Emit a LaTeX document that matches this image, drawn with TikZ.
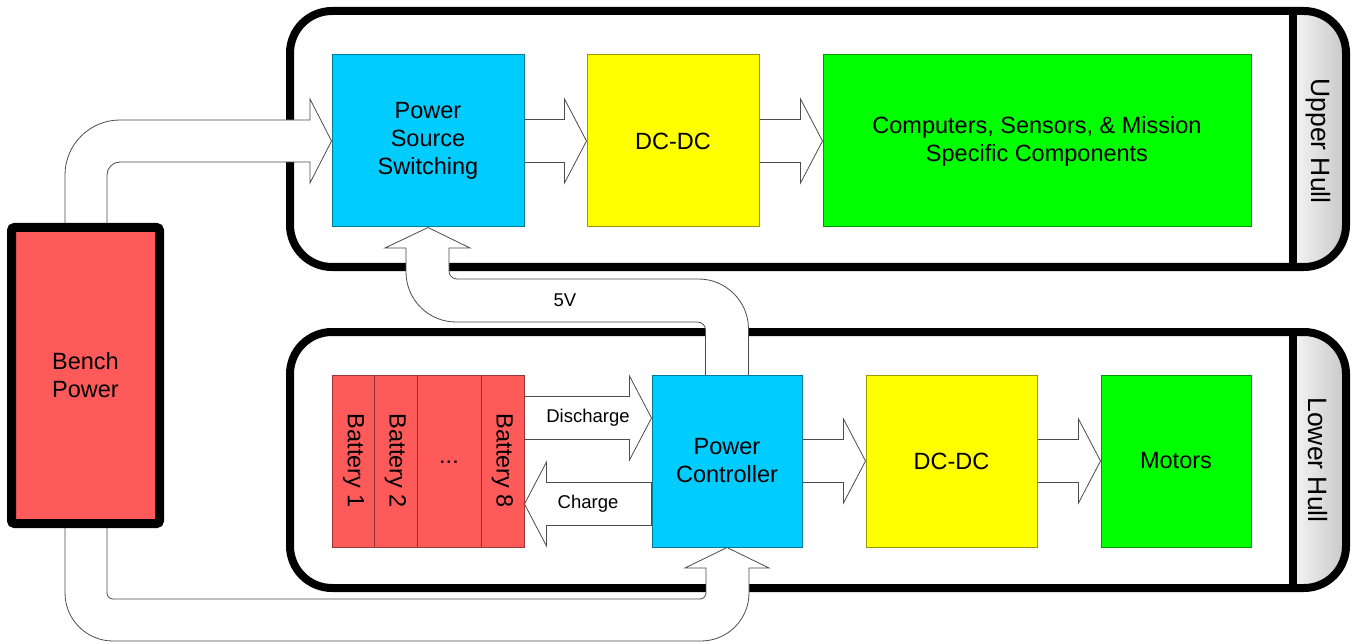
\documentclass[tikz,border=0pt]{standalone}
\usepackage{fontspec}
\setmainfont{Liberation Sans}
\usetikzlibrary{calc}
\pgfdeclarelayer{paper}
\pgfdeclarelayer{hulls}
\pgfdeclarelayer{arrows}
\pgfsetlayers{paper,hulls,arrows,main}
\definecolor{cyanbox}{HTML}{00CCFF}
\definecolor{yellowbox}{HTML}{FFFF00}
\definecolor{greenbox}{HTML}{00FF00}
\definecolor{redbox}{HTML}{FF5A5A}
\newcommand\boxfont{\fontsize{23.5}{28}\selectfont}
\newcommand\lblfont{\fontsize{18.5}{22}\selectfont}
\newcommand\hullfont{\fontsize{26.5}{30}\selectfont}
\newcommand\rblock[2]{%
  \draw[blockarrow] let \p1=(#1), \p2=(#2) in
   (\x1,\y2+21.5pt) -- (\x2-22pt,\y2+21.5pt) -- (\x2-22pt,\y2+42pt) -- (\x2,\y2)
   -- (\x2-22pt,\y2-42pt) -- (\x2-22pt,\y2-21.5pt) -- (\x1,\y2-21.5pt) -- cycle;}
\newcommand\lblock[2]{%
  \draw[blockarrow] let \p1=(#1), \p2=(#2) in
   (\x1,\y2+21.5pt) -- (\x2+22pt,\y2+21.5pt) -- (\x2+22pt,\y2+42pt) -- (\x2,\y2)
   -- (\x2+22pt,\y2-42pt) -- (\x2+22pt,\y2-21.5pt) -- (\x1,\y2-21.5pt) -- cycle;}
\tikzset{
  box/.style={draw=#1!60!black, fill=#1, line width=1pt, inner sep=0pt,
              align=center, font=\boxfont, text=black},
  blockarrow/.style={draw=black!70, fill=white, line width=0.8pt, line join=miter},
  hull/.style={draw=black, line width=8pt, rounded corners=42pt},
  capshade/.style={left color=black!4, right color=black!22},
  lbl/.style={font=\lblfont, inner sep=0pt},
  hulllbl/.style={font=\hullfont, rotate=-90, inner sep=0pt},
  batlbl/.style={font=\boxfont, rotate=-90, inner sep=0pt}
}
\begin{document}
\begin{tikzpicture}[x=1pt, y=-1pt]
\begin{pgfonlayer}{paper}
\fill[white] (0,0) rectangle (1359,644);
\end{pgfonlayer}
\useasboundingbox (0,0) rectangle (1359,644);

% ---------- boxes ----------
\node[box=cyanbox, minimum width=192pt, minimum height=172pt] (pss) at (428,141) {Power\\Source\\Switching};
\node[box=yellowbox, minimum width=172pt, minimum height=172pt] (dcu) at (673,141) {DC-DC};
\node[box=greenbox, minimum width=428pt, minimum height=172pt] (comp) at (1037,141) {Computers, Sensors, \& Mission\\Specific Components};

\node[box=redbox, minimum width=192pt, minimum height=172pt] (bat) at (428,461) {};
\draw[draw=redbox!55!black, line width=1pt] (374,375) -- (374,547);
\draw[draw=redbox!55!black, line width=1pt] (417,375) -- (417,547);
\draw[draw=redbox!55!black, line width=1pt] (481,375) -- (481,547);
\node[batlbl] (b1) at (353.5,461) {Battery 1};
\node[batlbl] (b2) at (395.5,461) {Battery 2};
\node[font=\boxfont, inner sep=0pt] (bdots) at (449,462) {...};
\node[batlbl] (b8) at (502.5,461) {Battery 8};

\node[box=cyanbox, minimum width=150pt, minimum height=172pt] (pc) at (727,461) {Power\\Controller};
\node[box=yellowbox, minimum width=171pt, minimum height=172pt] (dcl) at (951.5,461) {DC-DC};
\node[box=greenbox, minimum width=150pt, minimum height=172pt] (mot) at (1176,461) {Motors};

\node[draw=black, line width=9pt, fill=redbox, rounded corners=3pt, inner sep=0pt,
      minimum width=148pt, minimum height=296pt, align=center, font=\boxfont] (bench) at (85.5,375.5) {Bench\\Power};

\node[lbl] (dis) at (588,418) {Discharge};
\node[lbl] (chg) at (588,504) {Charge};
\node[lbl] (v5) at (565,300) {5V};

\node[hulllbl] (uhl) at (1318,141) {Upper Hull};
\node[hulllbl] (lhl) at (1318,460) {Lower Hull};

% ---------- hulls ----------
\begin{pgfonlayer}{hulls}
  \begin{scope}
    \clip[rounded corners=42pt] (290,11) rectangle (1346,267);
    \shade[capshade] (1293,11) rectangle (1346,267);
  \end{scope}
  \begin{scope}
    \clip[rounded corners=42pt] (290,332) rectangle (1346,588);
    \shade[capshade] (1293,332) rectangle (1346,588);
  \end{scope}
  \draw[hull] (290,11) rectangle (1346,267);
  \draw[hull] (290,332) rectangle (1346,588);
  \draw[line width=8pt] (1293,11) -- (1293,267);
  \draw[line width=8pt] (1293,332) -- (1293,588);
\end{pgfonlayer}

% ---------- block arrows ----------
\begin{pgfonlayer}{arrows}
  \rblock{pss.east}{dcu.west}
  \rblock{dcu.east}{comp.west}
  \rblock{pc.east}{dcl.west}
  \rblock{dcl.east}{mot.west}
  \rblock{$(bat.east)+(0,-43)$}{$(pc.west)+(0,-43)$}
  \lblock{$(pc.west)+(0,43)$}{$(bat.east)+(0,43)$}

  % bench power -> power source switching
  \draw[blockarrow] (65,224) -- (65,175) .. controls (65,144.6) and (89.6,120) .. (120,120)
    -- (310,120) -- (310,99) -- (pss.west) -- (310,183) -- (310,162) -- (120,162)
    .. controls (112.8,162) and (107,167.8) .. (107,175) -- (107,224) -- cycle;

  % bench power -> power controller (bottom)
  \draw[blockarrow] (65,523) -- (65,593) .. controls (65,619.5) and (86.5,641) .. (113,641)
    -- (701,641) .. controls (727.5,641) and (749,619.5) .. (749,593)
    -- (749,568) -- (769,568) -- (pc.south) -- (685,568) -- (706,568) -- (706,593)
    .. controls (706,596.3) and (703.3,599) .. (700,599) -- (113,599)
    .. controls (109.7,599) and (107,596.3) .. (107,593) -- (107,523) -- cycle;

  % power controller -> power source switching (5V)
  \draw[blockarrow] (705.5,376) -- (705.5,330) .. controls (705.5,325.6) and (701.9,322) .. (697.5,322)
    -- (456,322) .. controls (428.4,322) and (406,299.6) .. (406,272)
    -- (406,248) -- (385,248) -- (pss.south) -- (470,248) -- (449,248) -- (449,271)
    .. controls (449,275.4) and (452.6,279) .. (457,279)
    -- (698.5,279) .. controls (726.1,279) and (748.5,301.4) .. (748.5,329)
    -- (748.5,376) -- cycle;
\end{pgfonlayer}
\end{tikzpicture}
\end{document}
